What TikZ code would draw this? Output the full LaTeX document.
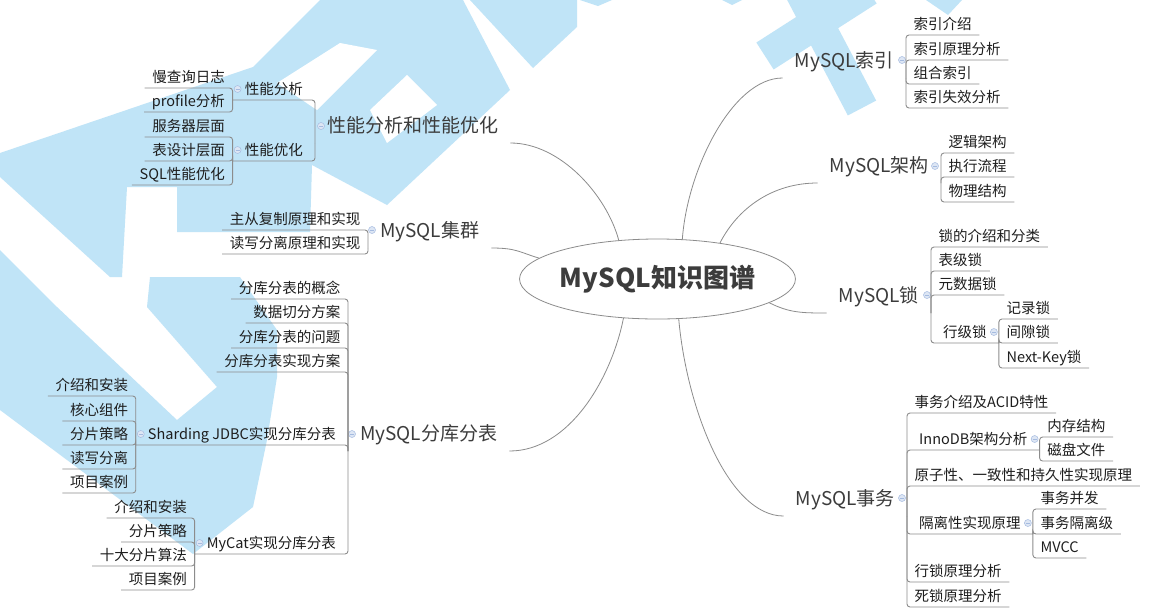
\documentclass[tikz,border=0pt]{standalone}
\usepackage{fontspec}
\setmainfont{Noto Sans CJK SC}
\usepackage{tikz}
\usetikzlibrary{shapes.geometric}
\definecolor{wm}{RGB}{192,228,247}
\definecolor{lc}{RGB}{140,140,140}
\definecolor{tc}{RGB}{30,30,30}
\definecolor{hc}{RGB}{60,60,60}
\definecolor{mkf}{RGB}{221,230,244}
\definecolor{mkd}{RGB}{165,187,224}

\begin{document}
\begin{tikzpicture}[x=1pt, y=-1pt,
    lf/.style={inner xsep=7.5pt, inner ysep=2pt, text height=11pt, text depth=3.5pt, text=tc, font=\fontsize{14.5pt}{17pt}\selectfont},
    sub/.style={lf, inner xsep=12pt},
    top/.style={inner xsep=12pt, inner ysep=2pt, text height=14pt, text depth=8.3pt, text=hc, font=\fontsize{19pt}{22pt}\selectfont},
    ln/.style={draw=lc, line width=0.9pt, rounded corners=3pt},
    cv/.style={draw=lc, line width=0.8pt},
    mk/.style={circle, inner sep=0pt, minimum size=7pt, draw=mkd, fill=mkf, line width=0.5pt,
      path picture={\draw[mkd, line width=0.7pt] ([xshift=-2pt]path picture bounding box.center) -- ([xshift=2pt]path picture bounding box.center);}}]
  \useasboundingbox (0,0) rectangle (1158,614);
  \fill[white] (0,0) rectangle (1158,614);

  \fill[wm] (0,153) -- (253,67) -- (320,0) -- (463,0) -- (510,90) -- (387,205) -- (312,165) -- (310,232) -- (177,232) -- (177,187) -- (127,187) -- (122,277) -- (110,277) -- (0,177) -- cycle;
  \fill[white] (370,110) -- (407,75) -- (437,105) -- (387,143) -- cycle;
  \fill[white] (340,43) -- (377,50) -- (317,110) -- (277,83) -- cycle;
  \fill[wm] (470,0) -- (577,0) -- (577,27) -- (533,68) -- cycle;
  \fill[wm] (0,250) -- (57,307) -- (177,420) -- (217,387) -- (147,307) -- (150,277) -- (240,277) -- (277,330) -- (277,377) -- (267,440) -- (253,507) -- (193,554) -- (0,410) -- cycle;
  \draw[wm, line width=32pt] (800,-10) -- (862,108) (868,-10) -- (765,56);
  \fill[wm] (580,0) -- (612,0) -- (598,6) -- cycle;
  \fill[wm] (722,0) -- (742,0) -- (732,5) -- cycle;
  \fill[wm] (926,0) -- (962,0) -- (948,15) -- cycle;

  \node[ellipse, draw=lc, line width=0.8pt, minimum width=251pt, minimum height=80pt, inner sep=0pt, text=hc, font=\fontsize{26pt}{30pt}\selectfont\bfseries] (r) at (657.5,279) {MySQL知识图谱};

  \node[top, anchor=south west] (t1) at (315,143) {性能分析和性能优化};
  \draw[cv] (r.135) .. controls +(-12,-45) and +(50,0) .. (t1.south east);
  \node[mk] at ([shift={(6,-17)}]t1.south west) {};
  \node[sub, anchor=south east] (s1) at (t1.south west |- 0,100) {性能分析};
  \node[sub, anchor=south east] (s2) at (t1.south west |- 0,161) {性能优化};
  \foreach \sb in {s1,s2} {
    \draw[ln] (t1.south west) -- (\sb.south east) -- (\sb.south west);
    \node[mk] at ([shift={(5,-11)}]\sb.south west) {};
  }
  \foreach \nm/\yy/\lbl in {a1/88/慢查询日志, a2/112/profile分析} {
    \node[lf, anchor=south east] (\nm) at (s1.south west |- 0,\yy) {\lbl};
    \draw[ln] (s1.south west) -- (\nm.south east) -- (\nm.south west);
  }
  \foreach \nm/\yy/\lbl in {b1/137/服务器层面, b2/161/表设计层面, b3/185/SQL性能优化} {
    \node[lf, anchor=south east] (\nm) at (s2.south west |- 0,\yy) {\lbl};
    \draw[ln] (s2.south west) -- (\nm.south east) -- (\nm.south west);
  }

  \node[top, anchor=south west] (t2) at (368,248) {MySQL集群};
  \draw[cv] (r.170) .. controls +(-20,-6) and +(25,0) .. (t2.south east);
  \node[mk] at ([shift={(4,-18)}]t2.south west) {};
  \foreach \nm/\yy/\lbl in {c1/230/主从复制原理和实现, c2/254/读写分离原理和实现} {
    \node[lf, anchor=south east] (\nm) at (t2.south west |- 0,\yy) {\lbl};
    \draw[ln] (t2.south west) -- (\nm.south east) -- (\nm.south west);
  }

  \node[top, anchor=south west] (t3) at (348,451) {MySQL分库分表};
  \draw[cv] (r.229) .. controls +(-12,60) and +(60,0) .. (t3.south east);
  \node[mk] at ([shift={(4,-17)}]t3.south west) {};
  \foreach \nm/\yy/\lbl in {d1/299/分库分表的概念, d2/323/数据切分方案, d3/348/分库分表的问题, d4/372/分库分表实现方案} {
    \node[lf, anchor=south east] (\nm) at (t3.south west |- 0,\yy) {\lbl};
    \draw[ln] (t3.south west) -- (\nm.south east) -- (\nm.south west);
  }
  \node[sub, anchor=south east] (s3) at (t3.south west |- 0,445) {Sharding JDBC实现分库分表};
  \node[sub, anchor=south east] (s4) at (t3.south west |- 0,554) {MyCat实现分库分表};
  \foreach \sb in {s3,s4} {
    \draw[ln] (t3.south west) -- (\sb.south east) -- (\sb.south west);
    \node[mk] at ([shift={(5,-11)}]\sb.south west) {};
  }
  \foreach \nm/\yy/\lbl in {e1/396/介绍和安装, e2/421/核心组件, e3/445/分片策略, e4/469/读写分离, e5/493/项目案例} {
    \node[lf, anchor=south east] (\nm) at (s3.south west |- 0,\yy) {\lbl};
    \draw[ln] (s3.south west) -- (\nm.south east) -- (\nm.south west);
  }
  \foreach \nm/\yy/\lbl in {f1/518/介绍和安装, f2/542/分片策略, f3/566/十大分片算法, f4/590/项目案例} {
    \node[lf, anchor=south east] (\nm) at (s4.south west |- 0,\yy) {\lbl};
    \draw[ln] (s4.south west) -- (\nm.south east) -- (\nm.south west);
  }

  \node[top, anchor=south east] (t4) at (906,78) {MySQL索引};
  \draw[cv] (r.58) .. controls +(5,-70) and +(-50,0) .. (t4.south west);
  \node[mk] at ([shift={(-4,-18)}]t4.south east) {};
  \foreach \nm/\yy/\lbl in {g1/35/索引介绍, g2/60/索引原理分析, g3/84/组合索引, g4/108/索引失效分析} {
    \node[lf, anchor=south west] (\nm) at (t4.south east |- 0,\yy) {\lbl};
    \draw[ln] (t4.south east) -- (\nm.south west) -- (\nm.south east);
  }

  \node[top, anchor=south east] (t5) at (941,183) {MySQL架构};
  \draw[cv] (r.30) .. controls +(18,-35) and +(-45,0) .. (t5.south west);
  \node[mk] at ([shift={(-6,-17)}]t5.south east) {};
  \foreach \nm/\yy/\lbl in {h1/153/逻辑架构, h2/177/执行流程, h3/202/物理结构} {
    \node[lf, anchor=south west] (\nm) at (t5.south east |- 0,\yy) {\lbl};
    \draw[ln] (t5.south east) -- (\nm.south west) -- (\nm.south east);
  }

  \node[top, anchor=south east] (t6) at (931,313) {MySQL锁};
  \draw[cv] (r.348) .. controls +(20,10) and +(-25,0) .. (t6.south west);
  \node[mk] at ([shift={(-4,-18)}]t6.south east) {};
  \foreach \nm/\yy/\lbl in {k1/247/锁的介绍和分类, k2/271/表级锁, k3/295/元数据锁} {
    \node[lf, anchor=south west] (\nm) at (t6.south east |- 0,\yy) {\lbl};
    \draw[ln] (t6.south east) -- (\nm.south west) -- (\nm.south east);
  }
  \node[sub, anchor=south west] (s5) at (t6.south east |- 0,343) {行级锁};
  \draw[ln] (t6.south east) -- (s5.south west) -- (s5.south east);
  \node[mk] at ([shift={(-5,-11)}]s5.south east) {};
  \foreach \nm/\yy/\lbl in {l1/319/记录锁, l2/343/间隙锁, l3/368/Next-Key锁} {
    \node[lf, anchor=south west] (\nm) at (s5.south east |- 0,\yy) {\lbl};
    \draw[ln] (s5.south east) -- (\nm.south west) -- (\nm.south east);
  }

  \node[top, anchor=south east] (t7) at (907,516) {MySQL事务};
  \draw[cv] (r.298) .. controls +(8,90) and +(-55,0) .. (t7.south west);
  \node[mk] at ([shift={(-5,-18)}]t7.south east) {};
  \foreach \nm/\yy/\lbl in {n1/413/事务介绍及ACID特性, n2/486/原子性、一致性和持久性实现原理, n3/582/行锁原理分析, n4/607/死锁原理分析} {
    \node[lf, anchor=south west] (\nm) at (t7.south east |- 0,\yy) {\lbl};
    \draw[ln] (t7.south east) -- (\nm.south west) -- (\nm.south east);
  }
  \node[sub, anchor=south west] (s6) at (t7.south east |- 0,450) {InnoDB架构分析};
  \node[sub, anchor=south west] (s7) at (t7.south east |- 0,534) {隔离性实现原理};
  \foreach \sb in {s6,s7} {
    \draw[ln] (t7.south east) -- (\sb.south west) -- (\sb.south east);
    \node[mk] at ([shift={(-5,-11)}]\sb.south east) {};
  }
  \foreach \nm/\yy/\lbl in {o1/437/内存结构, o2/461/磁盘文件} {
    \node[lf, anchor=south west] (\nm) at (s6.south east |- 0,\yy) {\lbl};
    \draw[ln] (s6.south east) -- (\nm.south west) -- (\nm.south east);
  }
  \foreach \nm/\yy/\lbl in {p1/509/事务并发, p2/534/事务隔离级, p3/558/MVCC} {
    \node[lf, anchor=south west] (\nm) at (s7.south east |- 0,\yy) {\lbl};
    \draw[ln] (s7.south east) -- (\nm.south west) -- (\nm.south east);
  }
\end{tikzpicture}
\end{document}
